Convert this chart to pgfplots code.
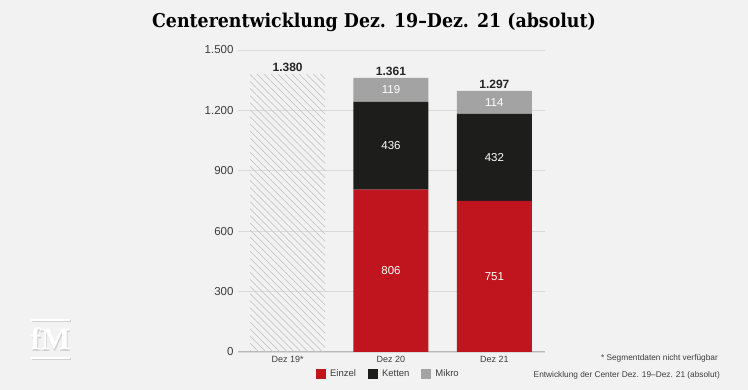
\documentclass[border=0pt]{standalone}
\usepackage{pgfplots}
\pgfplotsset{compat=1.18}
\usetikzlibrary{patterns.meta}
\usepackage{fontspec}
\setmainfont{Liberation Sans}
\newfontfamily\titlefont{DejaVu Serif}
\newfontfamily\logofont{Liberation Serif}
\definecolor{bg}{HTML}{F2F2F2}
\definecolor{einzel}{HTML}{C0141F}
\definecolor{ketten}{HTML}{1D1D1B}
\definecolor{mikro}{HTML}{A3A3A3}
\definecolor{gridc}{HTML}{DADADA}
\definecolor{txt}{HTML}{3C3C3C}
\begin{document}
\begin{tikzpicture}[x=1pt,y=1pt]
\fill[bg] (0,0) rectangle (748,390);
\node[font=\titlefont\bfseries\fontsize{19}{22}\selectfont, text=black] at (374,368) {\scalebox{0.915}[1]{Centerentwicklung Dez. 19–Dez. 21 (absolut)}};
% logo
\begin{scope}[shift={(0.8,-1.2)}]
\draw[black!18, line width=2.6pt] (31,70)--(70,70) (31,32)--(70,32);
\node[text=black!18, font=\logofont\bfseries\fontsize{31}{31}\selectfont] at (50.5,51) {fM};
\end{scope}
\draw[white, line width=2.6pt] (31,70)--(70,70) (31,32)--(70,32);
\node[text=white, font=\logofont\bfseries\fontsize{31}{31}\selectfont] at (50.5,51) {fM};
% notes
\node[anchor=east, text=txt, font=\fontsize{8.3}{10}\selectfont, inner sep=0pt] at (718,32) {* Segmentdaten nicht verfügbar};
\node[anchor=east, text=txt, font=\fontsize{8.3}{10}\selectfont, inner sep=0pt] at (720,15) {Entwicklung der Center Dez. 19–Dez. 21 (absolut)};
\begin{axis}[
  at={(238pt,38pt)}, anchor=south west,
  scale only axis, width=307pt, height=302pt,
  xmin=-0.48, xmax=2.49, ymin=0, ymax=1500,
  ybar stacked, bar width=75pt,
  xtick={0,1,2}, xticklabels={Dez 19*, Dez 20, Dez 21},
  ytick={0,300,600,900,1200,1500},
  yticklabels={0,300,600,900,1.200,1.500},
  ymajorgrids, grid style={gridc, line width=0.8pt},
  axis x line*=bottom, axis y line*=left,
  y axis line style={draw=none},
  x axis line style={draw=black!28, line width=1pt, -},
  major tick length=0pt,
  yticklabel style={font=\fontsize{11.5}{13}\selectfont, text=txt, xshift=-1pt},
  xticklabel style={font=\fontsize{9}{11}\selectfont, text=txt, yshift=-1pt},
  legend columns=3,
  legend style={at={(0.49,-0.073)}, anchor=center, draw=none, fill=none,
    font=\fontsize{9.5}{11}\selectfont, text=txt,
    /tikz/every odd column/.append style={column sep=2pt},
    /tikz/every even column/.append style={column sep=10pt}},
  legend image code/.code={\fill[#1] (0pt,-4.5pt) rectangle (10pt,5pt);},
]
\addplot[fill=einzel, draw=none] coordinates {(0,0) (1,806) (2,751)};
\addlegendentry{Einzel}
\addplot[fill=ketten, draw=none] coordinates {(0,0) (1,436) (2,432)};
\addlegendentry{Ketten}
\addplot[fill=mikro, draw=none] coordinates {(0,0) (1,119) (2,114)};
\addlegendentry{Mikro}
\addplot[forget plot, draw=none, pattern={Lines[angle=-45,distance=5pt,line width=0.7pt]}, pattern color=black!22] coordinates {(0,1380) (1,0) (2,0)};
\end{axis}
\begin{axis}[
  at={(238pt,38pt)}, anchor=south west,
  scale only axis, width=307pt, height=302pt,
  xmin=-0.48, xmax=2.49, ymin=0, ymax=1500,
  hide axis, clip=false,
]
\addplot[draw=none, nodes near coords, point meta=explicit symbolic,
  nodes near coords style={anchor=center, text=white, font=\fontsize{11.5}{13}\selectfont}]
  coordinates {(1,403)[806] (2,375.5)[751] (1,1024)[436] (2,967)[432] (1,1301.5)[119] (2,1240)[114]};
\addplot[draw=none, nodes near coords, point meta=explicit symbolic,
  nodes near coords style={anchor=south, text=black!85, font=\bfseries\fontsize{12}{14}\selectfont, inner sep=2pt}]
  coordinates {(0,1380)[1.380] (1,1361)[1.361] (2,1297)[1.297]};
\end{axis}
\end{tikzpicture}
\end{document}
